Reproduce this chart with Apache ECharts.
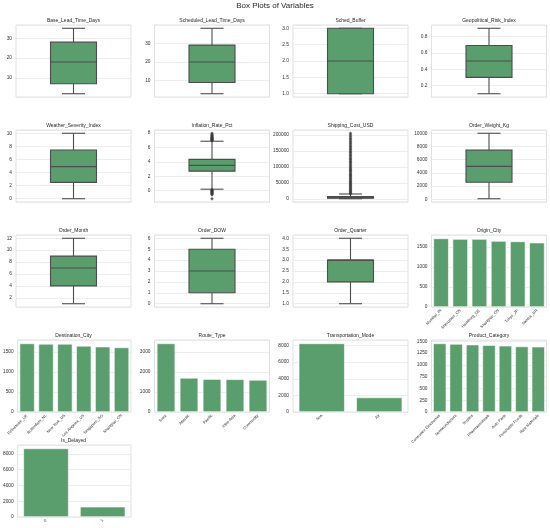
<!DOCTYPE html>
<html>
<head>
<meta charset="utf-8">
<script src="https://cdn.jsdelivr.net/npm/echarts@6/dist/echarts.min.js"></script>
<style>
  html, body { margin: 0; padding: 0; background: #fff; }
  #chart { width: 550px; height: 528px; }
</style>
</head>
<body>
<div id="chart"></div>
<script>
// box stats: [min whisker, q1, median, q3, max whisker]
const baseLeadTime = [2, 7, 18, 28, 35];
const scheduledLeadTime = [3, 9, 20, 29, 38];
const schedBuffer = [1, 1, 2, 3, 3];
const geoRisk = [0.1, 0.3, 0.5, 0.69, 0.9];
const weatherSeverity = [0, 2.5, 4.9, 7.45, 10];
const inflationRate = [0.2, 2.7, 3.5, 4.33, 6.85];
const shippingCost = [200, 1500, 3500, 7000, 15000];
const orderWeight = [100, 2600, 5000, 7450, 10000];
const orderMonth = [1, 4, 7, 9, 12];
const orderDow = [0, 1, 3, 5, 6];
const orderQuarter = [1, 2, 3, 3, 4];

// outliers
const inflationOutliers = [6.91, 6.97, 7.02, 7.08, 7.13, 7.21, 7.26, 7.33, 7.41, 7.47, 7.58, 7.66, 7.79, 7.95,
  0.12, 0.05, -0.02, -0.09, -0.15, -0.22, -0.3, -0.38, -0.47, -0.58, -1.12];
const shippingOutliers = [15500, 18200, 21000, 24400, 27100, 30600, 33900, 37200, 40500, 44100, 47300,
  50800, 54600, 58100, 61900, 65200, 69400, 73000, 76800, 80300, 84900, 88600, 92700, 96100,
  100400, 104800, 108900, 113300, 117600, 121900, 126200, 131000, 135400, 139800, 144700,
  149100, 153900, 158600, 163400, 168200, 173500, 178100, 183600, 188900, 194200, 199500, 205000];

// counts
const originCities = ['Mumbai_IN', 'Shenzhen_CN', 'Hamburg_DE', 'Shanghai_CN', 'Tokyo_JP', 'Santos_BR'];
const originCounts = [1715, 1700, 1700, 1650, 1640, 1610];
const destCities = ['Felixstowe_UK', 'Rotterdam_NL', 'New York_US', 'Los Angeles_US', 'Singapore_SG', 'Shanghai_CN'];
const destCounts = [1710, 1700, 1700, 1650, 1630, 1610];
const routeTypes = ['Suez', 'Atlantic', 'Pacific', 'Intra-Asia', 'Commodity'];
const routeCounts = [3420, 1700, 1640, 1630, 1600];
const transportModes = ['Sea', 'Air'];
const transportCounts = [8250, 1750];
const productCats = ['Consumer Electronics', 'Semiconductors', 'Textiles', 'Pharmaceuticals', 'Auto Parts', 'Perishable Foods', 'Raw Materials'];
const productCounts = [1455, 1445, 1430, 1420, 1405, 1390, 1385];
const delayedCats = ['0', '1'];
const delayedCounts = [8700, 1300];

const panels = [
  { kind: 'box', title: 'Base_Lead_Time_Days', stats: baseLeadTime, out: [], step: 10, dec: 0 },
  { kind: 'box', title: 'Scheduled_Lead_Time_Days', stats: scheduledLeadTime, out: [], step: 10, dec: 0 },
  { kind: 'box', title: 'Sched_Buffer', stats: schedBuffer, out: [], step: 0.5, dec: 1 },
  { kind: 'box', title: 'Geopolitical_Risk_Index', stats: geoRisk, out: [], step: 0.2, dec: 1 },
  { kind: 'box', title: 'Weather_Severity_Index', stats: weatherSeverity, out: [], step: 2, dec: 0 },
  { kind: 'box', title: 'Inflation_Rate_Pct', stats: inflationRate, out: inflationOutliers, step: 2, dec: 0 },
  { kind: 'box', title: 'Shipping_Cost_USD', stats: shippingCost, out: shippingOutliers, step: 50000, dec: 0 },
  { kind: 'box', title: 'Order_Weight_Kg', stats: orderWeight, out: [], step: 2000, dec: 0 },
  { kind: 'box', title: 'Order_Month', stats: orderMonth, out: [], step: 2, dec: 0 },
  { kind: 'box', title: 'Order_DOW', stats: orderDow, out: [], step: 1, dec: 0 },
  { kind: 'box', title: 'Order_Quarter', stats: orderQuarter, out: [], step: 0.5, dec: 1 },
  { kind: 'bar', title: 'Origin_City', cats: originCities, vals: originCounts, step: 500 },
  { kind: 'bar', title: 'Destination_City', cats: destCities, vals: destCounts, step: 500 },
  { kind: 'bar', title: 'Route_Type', cats: routeTypes, vals: routeCounts, step: 1000 },
  { kind: 'bar', title: 'Transportation_Mode', cats: transportModes, vals: transportCounts, step: 2000 },
  { kind: 'bar', title: 'Product_Category', cats: productCats, vals: productCounts, step: 250 },
  { kind: 'bar', title: 'Is_Delayed', cats: delayedCats, vals: delayedCounts, step: 2000 }
];

const green = '#5a9e6d';
const lineColor = '#4d4d4d';
const font = 'Liberation Sans, Arial, sans-serif';

function renderBox(params, api) {
  const pts = [1, 2, 3, 4, 5].map(i => api.coord([0, api.value(i)]));
  const x = pts[0][0];
  const band = api.size([1, 0])[0];
  const bw = band * 0.4, cw = band * 0.2;
  const ls = { stroke: lineColor, lineWidth: 1.1 };
  return {
    type: 'group',
    children: [
      { type: 'line', shape: { x1: x, y1: pts[0][1], x2: x, y2: pts[1][1] }, style: ls },
      { type: 'line', shape: { x1: x, y1: pts[3][1], x2: x, y2: pts[4][1] }, style: ls },
      { type: 'line', shape: { x1: x - cw / 2, y1: pts[0][1], x2: x + cw / 2, y2: pts[0][1] }, style: ls },
      { type: 'line', shape: { x1: x - cw / 2, y1: pts[4][1], x2: x + cw / 2, y2: pts[4][1] }, style: ls },
      { type: 'rect', shape: { x: x - bw / 2, y: pts[3][1], width: bw, height: pts[1][1] - pts[3][1] },
        style: { fill: green, stroke: lineColor, lineWidth: 1.1 } },
      { type: 'line', shape: { x1: x - bw / 2, y1: pts[2][1], x2: x + bw / 2, y2: pts[2][1] }, style: ls }
    ]
  };
}

const grids = [], xAxes = [], yAxes = [], series = [], graphics = [];
const plotW = 115, plotH = 72;

panels.forEach((p, i) => {
  const col = i % 4, row = Math.floor(i / 4);
  const left = 16 + col * 138.5;
  const top = 25 + row * 105;
  grids.push({ left: left, top: top, width: plotW, height: plotH, show: true,
    borderColor: '#d9d9d9', borderWidth: 0.8, backgroundColor: '#fff', containLabel: false });
  graphics.push({ type: 'text', x: left + plotW / 2, y: top - 2,
    style: { text: p.title, fill: '#262626', font: '5px ' + font, align: 'center', verticalAlign: 'bottom' } });

  const yLabel = { fontSize: 4.8, color: '#333', margin: 4, fontFamily: font,
    showMinLabel: false, showMaxLabel: false };
  const splitLine = { show: true, lineStyle: { color: '#e8e8e8', width: 0.8 } };

  if (p.kind === 'box') {
    const all = p.stats.concat(p.out);
    const lo = Math.min.apply(null, all), hi = Math.max.apply(null, all);
    const pad = (hi - lo) * 0.05;
    xAxes.push({ gridIndex: i, type: 'category', data: [''], axisLine: { show: false },
      axisTick: { show: false }, axisLabel: { show: false }, splitLine: { show: false } });
    yAxes.push({ gridIndex: i, type: 'value', min: lo - pad, max: hi + pad,
      minInterval: p.step, maxInterval: p.step, axisLine: { show: false }, axisTick: { show: false },
      axisLabel: Object.assign({}, yLabel, { formatter: v => v.toFixed(p.dec) }), splitLine: splitLine });
    series.push({ type: 'custom', xAxisIndex: i, yAxisIndex: i, renderItem: renderBox,
      encode: { x: 0, y: [1, 2, 3, 4, 5] }, data: [[0].concat(p.stats)], silent: true, z: 2 });
    if (p.out.length) {
      series.push({ type: 'scatter', xAxisIndex: i, yAxisIndex: i, symbol: 'diamond', symbolSize: 3.6,
        itemStyle: { color: '#3a3a3a' }, data: p.out.map(v => [0, v]), silent: true, z: 3 });
    }
  } else {
    const mx = Math.max.apply(null, p.vals) * 1.05;
    xAxes.push({ gridIndex: i, type: 'category', data: p.cats, axisLine: { show: false },
      axisTick: { show: false },
      axisLabel: { fontSize: 4, color: '#333', rotate: 45, margin: 3, interval: 0, fontFamily: font },
      splitLine: { show: false } });
    yAxes.push({ gridIndex: i, type: 'value', min: 0, max: mx, interval: p.step,
      axisLine: { show: false }, axisTick: { show: false },
      axisLabel: Object.assign({}, yLabel, { showMinLabel: true, formatter: v => String(v) }), splitLine: splitLine });
    series.push({ type: 'bar', xAxisIndex: i, yAxisIndex: i, data: p.vals, barCategoryGap: '20%',
      itemStyle: { color: green, borderColor: '#fff', borderWidth: 0.6 }, silent: true });
  }
});

graphics.push({ type: 'text', x: 275, y: 2,
  style: { text: 'Box Plots of Variables', font: '8px ' + font, fill: '#262626', align: 'center', verticalAlign: 'top' } });

const chart = echarts.init(document.getElementById('chart'), null, { renderer: 'canvas' });
chart.setOption({
  backgroundColor: '#fff',
  animation: false,
  grid: grids,
  xAxis: xAxes,
  yAxis: yAxes,
  series: series,
  graphic: graphics
});
</script>
</body>
</html>
